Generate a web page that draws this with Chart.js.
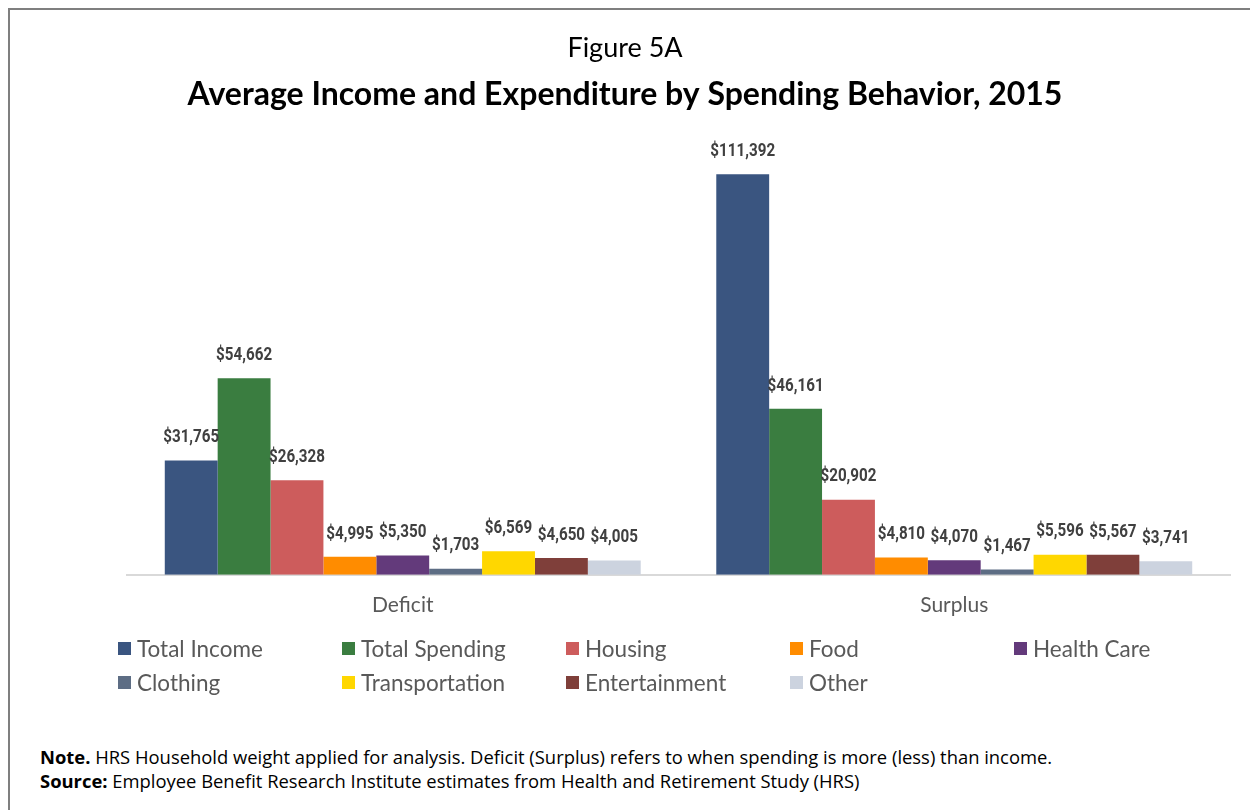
<!DOCTYPE html>
<html>
<head>
<meta charset="utf-8">
<script src="https://cdn.jsdelivr.net/npm/chart.js@4.4.1/dist/chart.umd.min.js"></script>
<style>
  body { margin: 0; background: #fff; font-family: Lato, "Open Sans", sans-serif; }
  #frame { position: absolute; left: 8px; top: 8px; width: 1300px; height: 900px; border: 2px solid #7f7f7f; box-sizing: border-box; }
  #wrap { position: absolute; left: 0; top: 0; width: 1250px; height: 639px; }
  #legend { position: absolute; left: 118px; top: 636px; display: grid; grid-template-columns: repeat(5, 224px); row-gap: 10px; }
  #legend div { display: flex; align-items: center; height: 24px; font-size: 22.5px; color: #595959; white-space: nowrap; }
  #legend span { display: inline-block; width: 13px; height: 13px; margin-right: 6px; }
  #note { position: absolute; left: 40px; top: 745px; font-family: "Open Sans", sans-serif; font-size: 18.4px; line-height: 24px; color: #000; }
</style>
</head>
<body>
<div id="frame"></div>
<div id="wrap"><canvas id="myChart"></canvas></div>
<div id="legend"></div>
<div id="note">
  <div><b>Note.</b> HRS Household weight applied for analysis. Deficit (Surplus) refers to when spending is more (less) than income.</div>
  <div><b>Source:</b> Employee Benefit Research Institute estimates from Health and Retirement Study (HRS)</div>
</div>
<script>
const ctx = document.getElementById("myChart").getContext("2d");

const labels = ["Deficit", "Surplus"];

const seriesNames = ["Total Income", "Total Spending", "Housing", "Food", "Health Care",
  "Clothing", "Transportation", "Entertainment", "Other"];

const colors = ["#3a5580", "#3a7d40", "#cd5c5c", "#ff8c00", "#633a7b",
  "#5d6d84", "#ffd700", "#7f3f3a", "#ccd3df"];

const totalIncome = [31765, 111392];
const totalSpending = [54662, 46161];
const housing = [26328, 20902];
const food = [4995, 4810];
const healthCare = [5350, 4070];
const clothing = [1703, 1467];
const transportation = [6569, 5596];
const entertainment = [4650, 5567];
const other = [4005, 3741];

const values = [totalIncome, totalSpending, housing, food, healthCare,
  clothing, transportation, entertainment, other];

// value labels above bars (squeezed to look like a condensed face)
const barLabels = {
  id: "barLabels",
  afterDatasetsDraw(chart) {
    const c = chart.ctx;
    chart.data.datasets.forEach((ds, i) => {
      chart.getDatasetMeta(i).data.forEach((bar, j) => {
        c.save();
        c.font = "bold 19px Roboto, sans-serif";
        c.fillStyle = "#404040";
        c.textAlign = "center";
        c.textBaseline = "middle";
        c.translate(bar.x, bar.y - 23);
        c.scale(0.8, 1);
        c.fillText("$" + ds.data[j].toLocaleString("en-US"), 0, 0);
        c.restore();
      });
    });
  },
};

const data = {
  labels,
  datasets: seriesNames.map((name, i) => ({
    label: name,
    data: values[i],
    backgroundColor: colors[i],
    barPercentage: 1,
    categoryPercentage: 0.863,
  })),
};

// empty side axes just to hold the plot margins
const spacer = (w, pos) => ({
  position: pos,
  grid: { display: false },
  border: { display: false },
  ticks: { display: false },
  afterFit: (scale) => { scale.width = w; },
});

const config = {
  type: "bar",
  data: data,
  plugins: [barLabels],
  options: {
    responsive: true,
    maintainAspectRatio: false,
    animation: false,
    layout: { padding: { left: 0, right: 0, top: 0, bottom: 3 } },
    plugins: {
      legend: { display: false },
      tooltip: { enabled: false },
      title: {
        display: true,
        text: "Figure 5A",
        color: "#000",
        font: { family: "Lato", size: 27, weight: "normal" },
        padding: { top: 32, bottom: 11.5 },
      },
      subtitle: {
        display: true,
        text: "Average Income and Expenditure by Spending Behavior, 2015",
        color: "#000",
        font: { family: "Lato", size: 32, weight: "bold" },
        padding: { top: 0, bottom: 29 },
      },
    },
    scales: {
      x: {
        grid: { display: false, drawTicks: false },
        border: { display: true, color: "#d9d9d9", width: 2 },
        ticks: { color: "#595959", font: { family: "Lato", size: 21 }, padding: 18 },
      },
      y: Object.assign(spacer(127, "left"), { min: 0, max: 120000 }),
      yRight: Object.assign(spacer(20, "right"), { min: 0, max: 120000 }),
    },
  },
};

const myChart = new Chart(ctx, config);

// html legend in a fixed grid, built from the chart's datasets
const legendEl = document.getElementById("legend");
myChart.data.datasets.forEach((ds) => {
  const item = document.createElement("div");
  const box = document.createElement("span");
  box.style.background = ds.backgroundColor;
  item.appendChild(box);
  item.appendChild(document.createTextNode(ds.label));
  legendEl.appendChild(item);
});
</script>
</body>
</html>
